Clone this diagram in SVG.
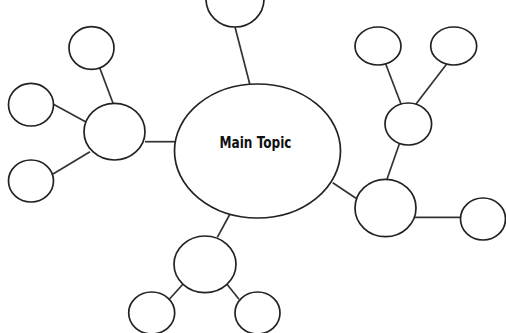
<svg xmlns="http://www.w3.org/2000/svg" width="506" height="333" viewBox="0 0 506 333">
<style>
  .n { fill: #ffffff; stroke: #222222; stroke-width: 1.7; }
  .c line { stroke: #333333; stroke-width: 1.7; }
  .t { font-family: "DejaVu Sans Condensed", "DejaVu Sans", "Liberation Sans", sans-serif; font-stretch: condensed; font-weight: bold; font-size: 15px; fill: #111111; }
</style>
<rect width="506" height="333" fill="#ffffff"/>
<g class="c" id="connectors">
  <line x1="235" y1="27" x2="250" y2="85"/>
  <line x1="99.3" y1="66.7" x2="113.3" y2="104"/>
  <line x1="53" y1="104" x2="86" y2="122"/>
  <line x1="53" y1="174" x2="90" y2="151.7"/>
  <line x1="145" y1="141.7" x2="175" y2="141.7"/>
  <line x1="385.7" y1="64" x2="401" y2="104"/>
  <line x1="446.7" y1="64" x2="416" y2="104"/>
  <line x1="399.3" y1="144" x2="386.7" y2="180"/>
  <line x1="415" y1="217.3" x2="461" y2="217.3"/>
  <line x1="332.7" y1="182.7" x2="356" y2="198.3"/>
  <line x1="230" y1="214" x2="217.3" y2="237.3"/>
  <line x1="184" y1="283" x2="169.3" y2="299.3"/>
  <line x1="226" y1="283" x2="239" y2="299.3"/>
</g>
<g id="top"><ellipse class="n" cx="235" cy="-1" rx="29" ry="28"/></g>
<g id="main">
  <ellipse class="n" cx="257.5" cy="151" rx="83" ry="67"/>
  <text class="t" x="255.5" y="147.7" text-anchor="middle" textLength="72" lengthAdjust="spacingAndGlyphs">Main Topic</text>
</g>
<g id="left-hub"><ellipse class="n" cx="114.5" cy="131.7" rx="30.5" ry="28.3"/></g>
<g id="left-top"><ellipse class="n" cx="91.5" cy="48" rx="22.5" ry="21.3"/></g>
<g id="left-mid"><ellipse class="n" cx="31" cy="104.7" rx="22.5" ry="21.3"/></g>
<g id="left-bottom"><ellipse class="n" cx="31" cy="181" rx="22.5" ry="21"/></g>
<g id="right-hub"><ellipse class="n" cx="385.5" cy="208" rx="30.5" ry="28.7"/></g>
<g id="right-mid"><ellipse class="n" cx="408.3" cy="124" rx="23.3" ry="21"/></g>
<g id="right-top-left"><ellipse class="n" cx="378" cy="46" rx="23" ry="19"/></g>
<g id="right-top-right"><ellipse class="n" cx="453.7" cy="46" rx="23" ry="19"/></g>
<g id="right-small"><ellipse class="n" cx="483" cy="219" rx="22.5" ry="21"/></g>
<g id="bottom-hub"><ellipse class="n" cx="205" cy="264.3" rx="31" ry="28.3"/></g>
<g id="bottom-left"><ellipse class="n" cx="151.7" cy="313" rx="23" ry="21"/></g>
<g id="bottom-right"><ellipse class="n" cx="257.5" cy="313" rx="22.5" ry="21"/></g>
</svg>
